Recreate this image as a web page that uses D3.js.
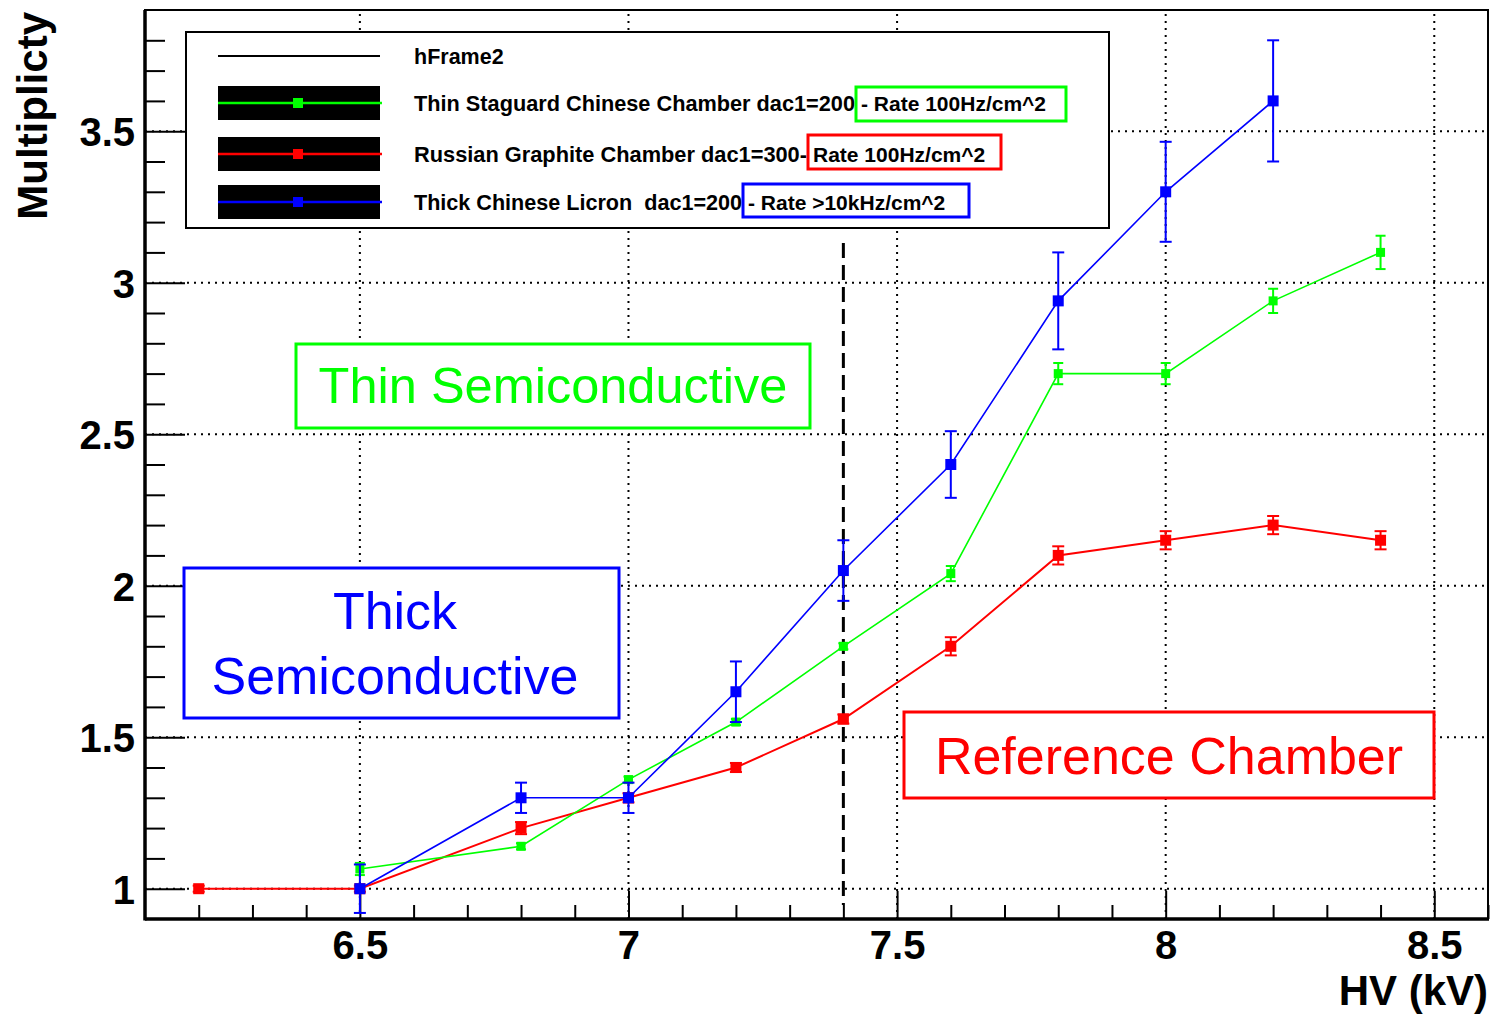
<!DOCTYPE html>
<html>
<head>
<meta charset="utf-8">
<script src="https://cdn.jsdelivr.net/npm/d3@7"></script>
<style>
  html, body { margin: 0; padding: 0; background: #fff; }
  svg { display: block; font-family: "Liberation Sans", Arial, sans-serif; }
  .tick text { font-weight: bold; }
  .pre { white-space: pre; }
</style>
</head>
<body>
<svg id="chart" width="1497" height="1016"></svg>
<script>
// HV points (kV) shared by every series
const HV = [6.2, 6.5, 6.8, 7.0, 7.2, 7.4, 7.6, 7.8, 8.0, 8.2, 8.4];

// Russian Graphite Chamber (reference)
const redHV  = HV;
const redVal = [1.0, 1.0, 1.2, 1.3, 1.4, 1.56, 1.8, 2.1, 2.15, 2.2, 2.15];
const redErr = [0.01, 0.01, 0.02, 0.015, 0.015, 0.015, 0.03, 0.03, 0.03, 0.03, 0.03];

// Thin Staguard Chinese Chamber
const greenHV  = [6.5, 6.8, 7.0, 7.2, 7.4, 7.6, 7.8, 8.0, 8.2, 8.4];
const greenVal = [1.065, 1.14, 1.36, 1.55, 1.8, 2.04, 2.7, 2.7, 2.94, 3.1];
const greenErr = [0.02, 0.01, 0.01, 0.01, 0.01, 0.025, 0.035, 0.035, 0.04, 0.055];

// Thick Chinese Licron
const blueHV  = [6.5, 6.8, 7.0, 7.2, 7.4, 7.6, 7.8, 8.0, 8.2];
const blueVal = [1.0, 1.3, 1.3, 1.65, 2.05, 2.4, 2.94, 3.3, 3.6];
const blueErr = [0.08, 0.05, 0.05, 0.1, 0.1, 0.11, 0.16, 0.165, 0.2];

const xMajor = [6.5, 7, 7.5, 8, 8.5];
const xMinor = [6.2, 6.3, 6.4, 6.6, 6.7, 6.8, 6.9, 7.1, 7.2, 7.3, 7.4, 7.6, 7.7, 7.8, 7.9, 8.1, 8.2, 8.3, 8.4, 8.6];
const yMajor = [1, 1.5, 2, 2.5, 3, 3.5];
const yMinor = [1.1, 1.2, 1.3, 1.4, 1.6, 1.7, 1.8, 1.9, 2.1, 2.2, 2.3, 2.4, 2.6, 2.7, 2.8, 2.9, 3.1, 3.2, 3.3, 3.4, 3.6, 3.7, 3.8];
const cutHV = 7.4;

const legendRows = [
  { label: "Thin Staguard Chinese Chamber dac1=200", rate: "- Rate 100Hz/cm^2", color: "#00ff00" },
  { label: "Russian Graphite Chamber dac1=300-", rate: "Rate 100Hz/cm^2", color: "#ff0000" },
  { label: "Thick Chinese Licron  dac1=200", rate: "- Rate >10kHz/cm^2", color: "#0000ff" },
];

const L = 145, R = 1488, T = 10, B = 919;
const svg = d3.select("#chart");
const x = d3.scaleLinear().domain([6.1, 8.6]).range([L, R]);
const y = d3.scaleLinear().domain([0.9, 3.9]).range([B, T]);

// ---- grid ----
const grid = svg.append("g").attr("stroke", "#000").attr("stroke-width", 2)
  .attr("stroke-dasharray", "2,5");
grid.selectAll("line.gx").data(xMajor).join("line")
  .attr("x1", x).attr("x2", x).attr("y1", B).attr("y2", T);
grid.selectAll("line.gy").data(yMajor).join("line")
  .attr("class", "gy")
  .attr("x1", L).attr("x2", R).attr("y1", y).attr("y2", y);

// ---- frame ----
svg.append("rect").attr("x", L).attr("y", T).attr("width", R - L).attr("height", B - T)
  .attr("fill", "none").attr("stroke", "#000").attr("stroke-width", 2);

// ---- axes ----
function styleAxis(g) {
  g.select(".domain").remove();
  g.selectAll(".tick line").attr("stroke", "#000").attr("stroke-width", 2);
}
svg.append("g").attr("transform", `translate(0,${B})`)
  .call(d3.axisTop(x).tickValues(xMinor).tickSize(14).tickFormat(""))
  .call(styleAxis);
svg.append("g").attr("transform", `translate(0,${B})`)
  .call(d3.axisTop(x).tickValues(xMajor).tickSize(28).tickFormat(""))
  .call(styleAxis);
svg.append("g").attr("transform", `translate(0,${B})`)
  .call(d3.axisBottom(x).tickValues(xMajor).tickSize(0).tickPadding(40).tickFormat(d3.format("")))
  .call((g) => g.select(".domain").remove())
  .call((g) => g.selectAll("text").style("font-size", "40px").attr("fill", "#000").attr("dy", "0"));

svg.append("g").attr("transform", `translate(${L},0)`)
  .call(d3.axisRight(y).tickValues(yMinor).tickSize(20).tickFormat(""))
  .call(styleAxis);
svg.append("g").attr("transform", `translate(${L},0)`)
  .call(d3.axisRight(y).tickValues(yMajor).tickSize(40).tickFormat(""))
  .call(styleAxis);
svg.append("g").attr("transform", `translate(${L},0)`)
  .call(d3.axisLeft(y).tickValues(yMajor).tickSize(0).tickPadding(10).tickFormat(d3.format("")))
  .call((g) => g.select(".domain").remove())
  .call((g) => g.selectAll("text").style("font-size", "40px").attr("fill", "#000").attr("dy", "0.36em"));

svg.append("line").attr("x1", L).attr("x2", L).attr("y1", T).attr("y2", B + 1.5)
  .attr("stroke", "#000").attr("stroke-width", 3.5);
svg.append("line").attr("x1", L).attr("x2", R + 1).attr("y1", B).attr("y2", B)
  .attr("stroke", "#000").attr("stroke-width", 3.5);

svg.append("text").attr("x", R).attr("y", 1005).attr("text-anchor", "end")
  .style("font-size", "42px").style("font-weight", "bold").text("HV (kV)");
svg.append("text").attr("transform", `translate(47,${T + 2}) rotate(-90)`)
  .attr("text-anchor", "end")
  .style("font-size", "42px").style("font-weight", "bold").text("Multiplicty");

// ---- dashed cut line ----
svg.append("line").attr("x1", x(cutHV)).attr("x2", x(cutHV)).attr("y1", 243).attr("y2", 905)
  .attr("stroke", "#000").attr("stroke-width", 3).attr("stroke-dasharray", "15,7");

// ---- series ----
function drawSeries(xs, vals, errs, color, lw, ms, cap) {
  const pts = xs.map((v, i) => ({ x: v, y: vals[i], e: errs[i] }));
  const g = svg.append("g");
  g.append("path").datum(pts)
    .attr("d", d3.line().x((d) => x(d.x)).y((d) => y(d.y)))
    .attr("fill", "none").attr("stroke", color).attr("stroke-width", lw);
  g.selectAll("line.err").data(pts).join("line")
    .attr("x1", (d) => x(d.x)).attr("x2", (d) => x(d.x))
    .attr("y1", (d) => y(d.y - d.e)).attr("y2", (d) => y(d.y + d.e))
    .attr("stroke", color).attr("stroke-width", 2);
  [-1, 1].forEach((s) => {
    g.selectAll(null).data(pts).join("line")
      .attr("x1", (d) => x(d.x) - cap).attr("x2", (d) => x(d.x) + cap)
      .attr("y1", (d) => y(d.y + s * d.e)).attr("y2", (d) => y(d.y + s * d.e))
      .attr("stroke", color).attr("stroke-width", 2);
  });
  g.selectAll("rect").data(pts).join("rect")
    .attr("x", (d) => x(d.x) - ms / 2).attr("y", (d) => y(d.y) - ms / 2)
    .attr("width", ms).attr("height", ms).attr("fill", color);
}
drawSeries(redHV, redVal, redErr, "#ff0000", 2, 11, 6);
drawSeries(greenHV, greenVal, greenErr, "#00ff00", 1.6, 9, 5);
drawSeries(blueHV, blueVal, blueErr, "#0000ff", 1.6, 11, 6);

// ---- legend ----
const leg = svg.append("g");
leg.append("rect").attr("x", 186).attr("y", 32).attr("width", 923).attr("height", 196)
  .attr("fill", "#fff").attr("stroke", "#000").attr("stroke-width", 2);
leg.append("line").attr("x1", 218).attr("x2", 380).attr("y1", 56).attr("y2", 56)
  .attr("stroke", "#000").attr("stroke-width", 2);
leg.append("text").attr("x", 414).attr("y", 56).attr("dy", "0.36em")
  .style("font-size", "21.5px").style("font-weight", "bold").text("hFrame2");
const rowY = [103, 154, 202];
const rateBox = [[856, 87, 210, 34], [808, 135, 193, 34], [743, 184, 226, 33]];
legendRows.forEach((r, i) => {
  const cy = rowY[i];
  const b = rateBox[i];
  leg.append("rect").attr("x", 218).attr("y", cy - 17).attr("width", 162).attr("height", 34).attr("fill", "#000");
  leg.append("line").attr("x1", 218).attr("x2", 382).attr("y1", cy).attr("y2", cy)
    .attr("stroke", r.color).attr("stroke-width", 2.5);
  leg.append("rect").attr("x", 293).attr("y", cy - 5).attr("width", 10).attr("height", 10).attr("fill", r.color);
  leg.append("text").attr("class", "pre").attr("x", 414).attr("y", cy).attr("dy", "0.36em")
    .attr("textLength", b[0] - 415).attr("lengthAdjust", "spacingAndGlyphs")
    .style("font-size", "21.5px").style("font-weight", "bold").text(r.label);
  leg.append("text").attr("class", "pre").attr("x", b[0] + 5).attr("y", cy).attr("dy", "0.36em")
    .style("font-size", "21px").style("font-weight", "bold").text(r.rate);
  leg.append("rect").attr("x", b[0]).attr("y", b[1]).attr("width", b[2]).attr("height", b[3])
    .attr("fill", "none").attr("stroke", r.color).attr("stroke-width", 3);
});

// ---- annotation boxes ----
function note(bx, by, bw, bh, color, lines, cx, baselines, fs) {
  svg.append("rect").attr("x", bx).attr("y", by).attr("width", bw).attr("height", bh)
    .attr("fill", "#fff").attr("stroke", color).attr("stroke-width", 3);
  lines.forEach((s, i) => {
    svg.append("text").attr("x", cx).attr("y", baselines[i]).attr("text-anchor", "middle")
      .attr("fill", color).style("font-size", fs + "px").text(s);
  });
}
note(296, 344, 514, 84, "#00ff00", ["Thin Semiconductive"], 553, [403], 50.5);
note(184, 568, 435, 150, "#0000ff", ["Thick", "Semiconductive"], 395, [629, 694], 52);
note(904, 712, 530, 86, "#ff0000", ["Reference Chamber"], 1169, [774], 52);
</script>
</body>
</html>
